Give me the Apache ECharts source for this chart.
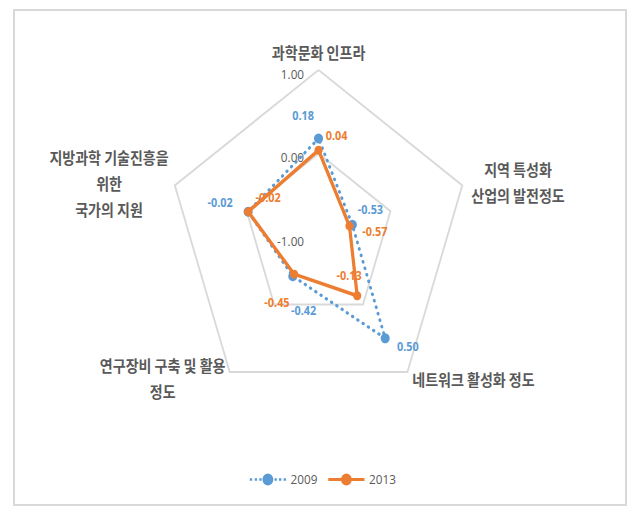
<!DOCTYPE html>
<html><head><meta charset="utf-8">
<script src="https://cdn.jsdelivr.net/npm/echarts@6/dist/echarts.min.js"></script>
<style>
html,body{margin:0;padding:0;background:#fff;}
#wrap{position:relative;width:630px;height:513px;overflow:hidden;background:#fff;}
#frame{position:absolute;left:13px;top:9px;width:614px;height:497px;box-sizing:border-box;border:2px solid #d9d9d9;}
#chart{position:absolute;left:0;top:0;width:696px;height:513px;transform:scaleX(0.905);transform-origin:0 0;}
</style></head><body>
<div id="wrap"><div id="frame"></div><div id="chart"></div></div>
<script>
// ---- data ----
const categories = ['과학문화 인프라', '지역 특성화\n산업의 발전정도', '네트워크 활성화 정도', '연구장비 구축 및 활용\n정도', '지방과학 기술진흥을\n위한\n국가의 지원'];
const seriesNames = ['2009', '2013'];
const values2009 = [0.18, -0.53, 0.50, -0.42, -0.02];
const values2013 = [0.04, -0.57, -0.13, -0.45, -0.02];
const axisMin = -1;
const axisMax = 1;

// ---- styles / layout ----
const BLUE = '#5B9BD5', ORANGE = '#ED7D31', TEXT = '#595959';
const FONT = "'Noto Sans CJK KR', 'Noto Sans', sans-serif";
const NUMFONT = "'Open Sans', 'Noto Sans', sans-serif";
// ECharts places indicators counter-clockwise; the reference goes clockwise
const order = [0, 4, 3, 2, 1];
const nameGaps = [5, 10, 9, 7, 6];
const nameWidths = [0, 104, 0, 140, 134];
const labelOffsets = [
  [[-17, -23], [20, -16], [25, 8], [12, 34], [-31, -9]],
  [[20, -15], [28, 5], [-9, -20], [-19, 28], [22, -14]]
];

const rich = {};
categories.forEach((c, i) => {
  rich['n' + i] = { fontSize: 15.5, fontWeight: 'bold', lineHeight: 26, color: TEXT, fontFamily: FONT, align: 'center' };
  if (nameWidths[i]) rich['n' + i].width = nameWidths[i];
});

const indicator = order.map((i, k) => ({
  name: categories[i], min: axisMin, max: axisMax, nameGap: nameGaps[i], _idx: i,
  axisLabel: { show: k === 0 }
}));

function makeLayout(vals, offs) {
  return function (p) {
    const i = vals.findIndex(v => v.toFixed(2) === p.text);
    if (i < 0) return {};
    return { dx: offs[i][0], dy: offs[i][1] };
  };
}

const iconDotted = 'path://M0 4.7h2.6v2.6h-2.6zM5.5 4.7h2.6v2.6h-2.6zM10.5 4.7h2.6v2.6h-2.6zM14 6a6 6 0 1 1 12 0a6 6 0 1 1 -12 0zM27.3 4.7h2.6v2.6h-2.6zM32.3 4.7h2.6v2.6h-2.6zM37.4 4.7h2.6v2.6h-2.6z';
const iconSolid = 'path://M0 4.5H14.5V7.5H0ZM14 6a6 6 0 1 1 12 0a6 6 0 1 1 -12 0zM25.5 4.5H40V7.5H25.5Z';

const chart = echarts.init(document.getElementById('chart'), null, { renderer: 'svg' });
chart.setOption({
  animation: false,
  backgroundColor: 'transparent',
  legend: {
    left: 271, top: 468,
    itemWidth: 40, itemHeight: 12, itemGap: 12,
    textStyle: { color: TEXT, fontSize: 13, fontFamily: NUMFONT },
    data: [{ name: seriesNames[0], icon: iconDotted }, { name: seriesNames[1], icon: iconSolid }]
  },
  radar: {
    center: [352, 237],
    radius: 167,
    startAngle: 90,
    splitNumber: 2,
    shape: 'polygon',
    indicator: indicator,
    axisName: {
      formatter: (name, ind) => name.split('\n').map(l => '{n' + ind._idx + '|' + l + '}').join('\n'),
      rich: rich, color: TEXT, fontSize: 15.5, fontFamily: FONT
    },
    axisLine: { show: false },
    axisTick: { show: false },
    axisLabel: {
      show: false, color: TEXT, fontSize: 13, fontFamily: NUMFONT, margin: 16,
      verticalAlign: 'top', lineHeight: 8,
      formatter: v => Number(v).toFixed(2)
    },
    splitLine: { lineStyle: { color: '#d9d9d9', width: 2 } },
    splitArea: { show: false }
  },
  series: [
    {
      type: 'radar', name: seriesNames[0], symbol: 'circle', symbolSize: 10, z: 2,
      data: [{ name: seriesNames[0], value: order.map(i => values2009[i]) }],
      itemStyle: { color: BLUE },
      lineStyle: { color: BLUE, width: 3.2, type: [0.5, 6.3], cap: 'round' },
      label: { show: true, position: 'inside', color: BLUE, fontSize: 12, fontWeight: 'bold', fontFamily: NUMFONT,
               formatter: p => Number(p.value).toFixed(2) },
      labelLayout: makeLayout(values2009, labelOffsets[0])
    },
    {
      type: 'radar', name: seriesNames[1], symbol: 'circle', symbolSize: 9, z: 3,
      data: [{ name: seriesNames[1], value: order.map(i => values2013[i]) }],
      itemStyle: { color: ORANGE },
      lineStyle: { color: ORANGE, width: 3.6 },
      label: { show: true, position: 'inside', color: ORANGE, fontSize: 12, fontWeight: 'bold', fontFamily: NUMFONT,
               formatter: p => Number(p.value).toFixed(2) },
      labelLayout: makeLayout(values2013, labelOffsets[1])
    }
  ]
});
</script>
</body></html>
